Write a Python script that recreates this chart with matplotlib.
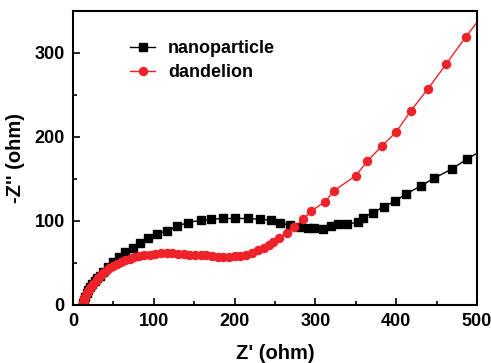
import matplotlib
matplotlib.use("Agg")
import matplotlib.pyplot as plt
from matplotlib.ticker import MultipleLocator

# ----------------------------
# Nyquist data
# ----------------------------
nano_x = [12, 13, 15, 17, 19, 21, 24, 27, 30, 33, 37, 43, 50, 57, 64, 74, 83, 93,
          104, 116, 129, 142, 158, 171, 186, 200, 217, 231, 245, 256, 268, 281,
          291, 298, 309, 319, 328, 339, 353, 359, 371, 385, 399, 412, 431, 447,
          469, 488, 510]
nano_y = [2, 6, 10, 14, 18, 21, 25, 29, 32, 35, 39, 45, 51, 57, 63, 68, 74, 80,
          85, 88, 94, 98, 101, 102, 103, 103, 103, 102, 101, 98, 95, 93,
          92, 92, 91, 94, 96, 96, 99, 104, 110, 117, 124, 132, 142, 151,
          162, 174, 186]

dand_x = [11, 12, 13, 14, 15, 17, 19, 21, 23, 25, 28, 31, 34, 37, 41, 45, 49, 54,
          59, 64, 70, 76, 82, 88, 95, 102, 109, 116, 123, 130, 137, 144, 151, 158,
          165, 172, 179, 186, 193, 200, 207, 214, 221, 229, 236, 242, 248, 255,
          265, 274, 285, 295, 312, 323, 350, 364, 382, 400, 418, 439, 462, 486, 510]
dand_y = [0, 2, 5, 8, 10, 14, 17, 20, 23, 25, 29, 32, 35, 38, 41, 44, 47, 49,
          51, 53, 55, 57, 58, 59, 60, 61, 62, 62, 62, 61, 61, 60, 60, 59,
          59, 58, 57, 57, 57, 58, 58, 60, 62, 65, 68, 72, 75, 80,
          86, 93, 102, 112, 123, 136, 154, 171, 189, 206, 231, 257, 287, 319, 349]

plt.rcParams['font.family'] = ['Liberation Sans', 'DejaVu Sans']
plt.rcParams['font.weight'] = 'bold'

fig = plt.figure(figsize=(4.91, 3.63), dpi=100)
ax = fig.add_axes([0.1487, 0.1598, 0.8228, 0.8099])

ax.plot(nano_x, nano_y, color='black', lw=1, marker='s', ms=5.4,
        label='nanoparticle')
ax.plot(dand_x, dand_y, color='#ee2229', lw=1, marker='o', ms=5.8,
        label='dandelion')

ax.set_xlim(0, 500)
ax.set_ylim(0, 350)
ax.xaxis.set_major_locator(MultipleLocator(100))
ax.xaxis.set_minor_locator(MultipleLocator(50))
ax.yaxis.set_major_locator(MultipleLocator(100))
ax.yaxis.set_minor_locator(MultipleLocator(50))
ax.tick_params(which='both', direction='in', width=1.2, labelsize=13)
ax.tick_params(which='major', length=5, pad=6)
ax.tick_params(which='minor', length=3)
for s in ax.spines.values():
    s.set_linewidth(1.5)

ax.set_xlabel("Z' (ohm)", fontsize=14.5, fontweight='bold', labelpad=9.5)
ax.set_ylabel("-Z'' (ohm)", fontsize=14.5, fontweight='bold', labelpad=7)

ax.legend(loc='upper left', bbox_to_anchor=(0.141, 0.90), frameon=False,
          fontsize=13, handlelength=1.4, handletextpad=0.7, labelspacing=0.38,
          borderaxespad=0, borderpad=0)

fig.savefig('out.png', dpi=100)
